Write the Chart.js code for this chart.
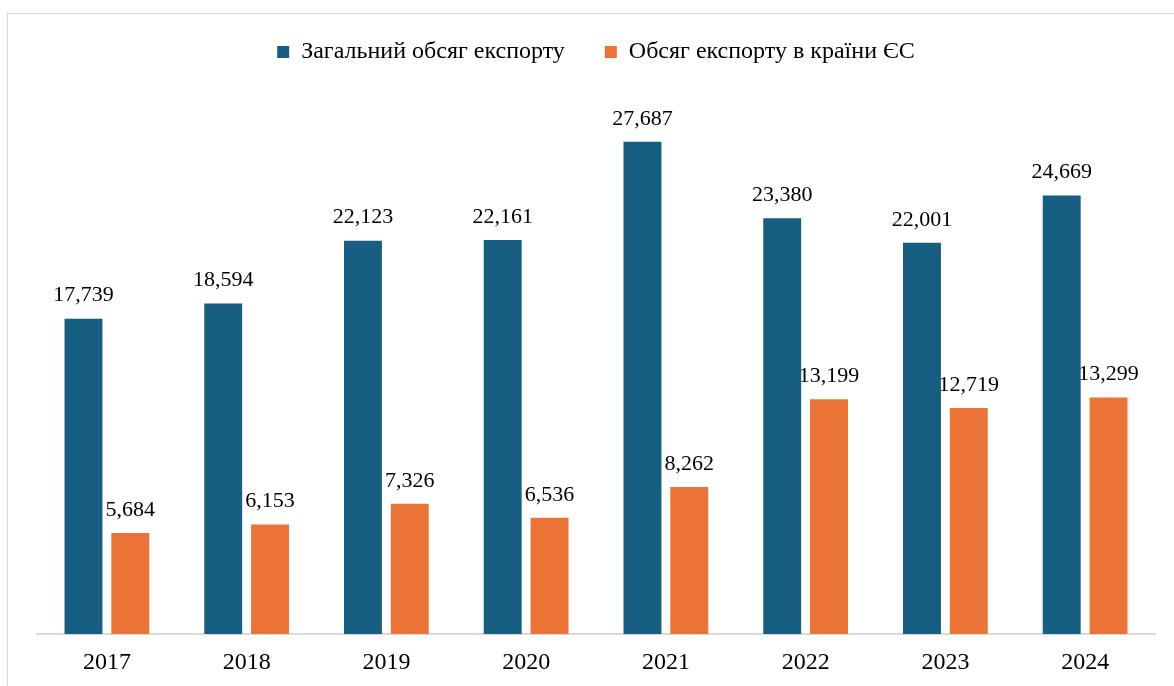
<!DOCTYPE html>
<html lang="uk">
<head>
<meta charset="utf-8">
<title>Обсяг експорту</title>
<script src="https://cdn.jsdelivr.net/npm/chart.js@4.4.1/dist/chart.umd.min.js"></script>
<style>
  html, body { margin: 0; padding: 0; background: #ffffff; overflow: hidden; }
  #frame {
    position: absolute; left: 7px; top: 13px; width: 1200px; height: 720px;
    border: 1px solid #d9d9d9; box-sizing: border-box;
  }
  #wrap { position: absolute; left: 0; top: 0; width: 1174px; height: 686px; }
</style>
</head>
<body>
<div id="frame"></div>
<div id="wrap"><canvas id="export-chart"></canvas></div>
<script>
// Дані графіка
const years = ['2017', '2018', '2019', '2020', '2021', '2022', '2023', '2024'];
const totalExport = [17739, 18594, 22123, 22161, 27687, 23380, 22001, 24669];
const euExport = [5684, 6153, 7326, 6536, 8262, 13199, 12719, 13299];
const seriesNames = ['Загальний обсяг експорту', 'Обсяг експорту в країни ЄС'];

const BLUE = '#175f82';
const ORANGE = '#eb7335';
const FONT = "'Liberation Serif', 'Times New Roman', serif";

// ============================================
// Підписи значень над стовпчиками
// ============================================
const valueLabels = {
  id: 'valueLabels',
  afterDatasetsDraw(chart) {
    const ctx = chart.ctx;
    ctx.save();
    ctx.font = `22px ${FONT}`;
    ctx.fillStyle = '#000000';
    ctx.textAlign = 'center';
    ctx.textBaseline = 'middle';
    chart.data.datasets.forEach((ds, i) => {
      const meta = chart.getDatasetMeta(i);
      meta.data.forEach((bar, j) => {
        ctx.fillText(ds.data[j].toLocaleString('en-US'), bar.x, bar.y - 23);
      });
    });
    ctx.restore();
  }
};

const ctx = document.getElementById('export-chart').getContext('2d');
new Chart(ctx, {
  type: 'bar',
  data: {
    labels: years,
    datasets: [
      { label: seriesNames[0], data: totalExport, backgroundColor: BLUE },
      { label: seriesNames[1], data: euExport, backgroundColor: ORANGE }
    ]
  },
  options: {
    responsive: true,
    maintainAspectRatio: false,
    animation: false,
    categoryPercentage: 0.67,
    barPercentage: 0.81,
    layout: { padding: { left: 37, right: 19, top: 0, bottom: 0 } },
    scales: {
      x: {
        grid: { display: false, drawTicks: false },
        border: { display: true, color: '#d9d9d9', width: 2 },
        ticks: { color: '#000000', font: { family: FONT, size: 24 }, padding: 14 },
        afterFit(scale) { scale.height = 52; }
      },
      y: {
        display: false,
        min: 0,
        max: 31500
      }
    },
    plugins: {
      legend: {
        position: 'top',
        labels: {
          color: '#000000',
          font: { family: FONT, size: 24 },
          boxWidth: 12,
          boxHeight: 12,
          padding: 40
        }
      },
      tooltip: { enabled: false }
    }
  },
  plugins: [valueLabels]
});
</script>
</body>
</html>
